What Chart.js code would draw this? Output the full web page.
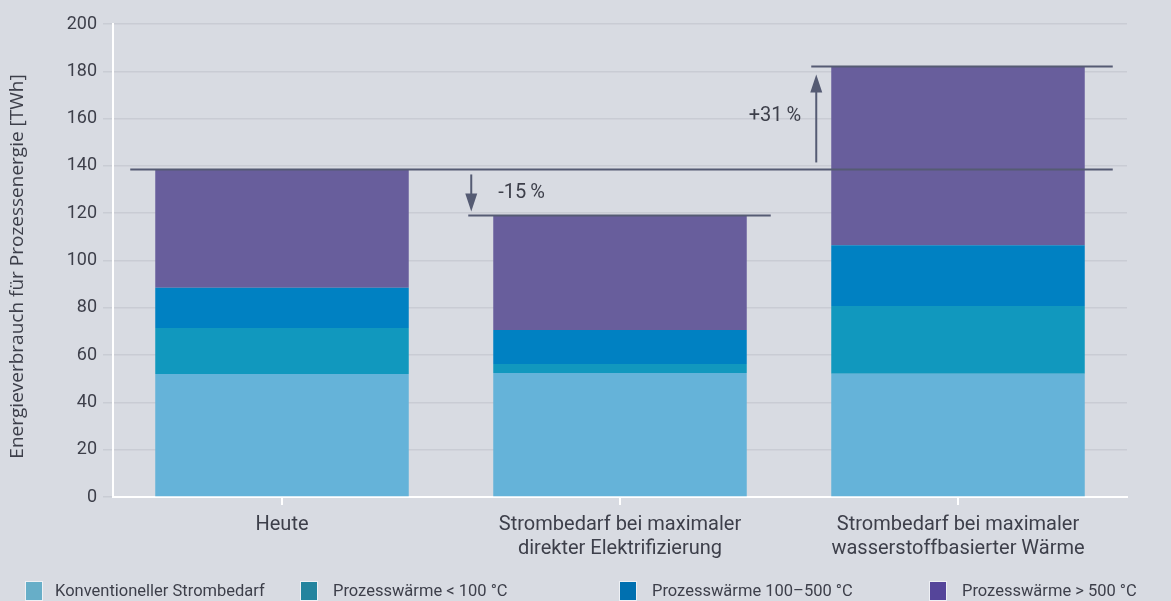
<!DOCTYPE html>
<html lang="de">
<head>
<meta charset="utf-8">
<script src="https://cdn.jsdelivr.net/npm/chart.js@4/dist/chart.umd.min.js"></script>
<style>
  html, body { margin: 0; padding: 0; background: #d8dbe2; }
  #wrap { position: relative; width: 1171px; height: 601px; overflow: hidden; }
  #legend { position: absolute; left: 0; top: 581px; width: 1171px; height: 22px;
            font-family: Roboto, sans-serif; font-size: 16.5px; color: #3d3f4a; }
  .item { position: absolute; top: 0; height: 22px; line-height: 20px; white-space: nowrap; }
  .box { position: absolute; left: 0; top: 0; width: 16px; height: 18px; border: 1px solid #eef0f4; }
  .item span { position: absolute; top: 0; }
</style>
</head>
<body>
<div id="wrap">
  <canvas id="chart" width="1171" height="601"></canvas>
  <div id="legend"></div>
</div>
<script>
// Kategorien und Werte (TWh)
const categories = [
    "Heute",
    ["Strombedarf bei maximaler", "direkter Elektrifizierung"],
    ["Strombedarf bei maximaler", "wasserstoffbasierter Wärme"]
];
const seriesNames = [
    "Konventioneller Strombedarf",
    "Prozesswärme < 100 °C",
    "Prozesswärme 100–500 °C",
    "Prozesswärme > 500 °C"
];
const konventionell = [52, 52.4, 52.1];
const waerme100 = [19.5, 3.8, 28.7];
const waerme100bis500 = [17, 14.4, 25.6];
const waerme500 = [50, 48.4, 75.6];
const yTicks = [0, 20, 40, 60, 80, 100, 120, 140, 160, 180, 200];
const yTitle = 'Energieverbrauch für Prozessenergie [TWh]';
const changeLabels = ["-15\u2009%", "+31\u2009%"];

const barColors = ['#65b3d9', '#1198be', '#0081c2', '#685e9c'];
const legendColors = ['#67aec8', '#23849e', '#0070b0', '#55459a'];
const legendX = [25, 300, 619, 929];

const textColor = '#3d3f4a';
const markColor = '#555b73';

const totals = konventionell.map((v, i) => v + waerme100[i] + waerme100bis500[i] + waerme500[i]);

// Legende als HTML
const legendEl = document.getElementById('legend');
seriesNames.forEach((name, i) => {
    const item = document.createElement('div');
    item.className = 'item';
    item.style.left = legendX[i] + 'px';
    item.innerHTML = '<div class="box" style="background:' + legendColors[i] + '"></div><span style="left:' + (i === 0 ? 30 : 33) + 'px">' + name + '</span>';
    legendEl.appendChild(item);
});

// Referenzlinien, Pfeile, Prozentangaben und Achsentitel
const annotations = {
    id: 'annotations',
    afterDatasetsDraw(chart) {
        const ctx = chart.ctx;
        const y = chart.scales.y;
        const meta = chart.getDatasetMeta(3);
        const bars = meta.data.map(b => ({ left: b.x - b.width / 2, right: b.x + b.width / 2 }));
        const y0 = y.getPixelForValue(totals[0]);
        const y1 = y.getPixelForValue(totals[1]);
        const y2 = y.getPixelForValue(totals[2]);

        ctx.save();
        ctx.strokeStyle = markColor;
        ctx.fillStyle = markColor;
        ctx.lineWidth = 2;

        function hline(x1, x2, yy) {
            ctx.beginPath();
            ctx.moveTo(x1, yy);
            ctx.lineTo(x2, yy);
            ctx.stroke();
        }
        function arrow(x, from, to) {
            const dir = to > from ? 1 : -1;
            ctx.lineWidth = 2;
            ctx.beginPath();
            ctx.moveTo(x, from);
            ctx.lineTo(x, to - dir * 12);
            ctx.stroke();
            ctx.beginPath();
            ctx.moveTo(x - 6, to - dir * 18);
            ctx.lineTo(x + 6, to - dir * 18);
            ctx.lineTo(x, to);
            ctx.closePath();
            ctx.fill();
        }

        hline(bars[0].left - 25, bars[2].right + 28, y0);
        hline(bars[1].left - 25, bars[1].right + 24, y1);
        hline(bars[2].left - 20, bars[2].right + 28, y2);

        arrow(bars[1].left - 22, y0 + 5, y1 - 4);
        arrow(bars[2].left - 15, y0 - 7, y2 + 8);

        ctx.fillStyle = textColor;
        ctx.font = '20px Roboto, sans-serif';
        ctx.textBaseline = 'middle';
        ctx.textAlign = 'left';
        ctx.fillText(changeLabels[0], bars[1].left + 5, (y0 + y1) / 2);
        ctx.textAlign = 'right';
        ctx.fillText(changeLabels[1], bars[2].left - 30, (y0 + y2) / 2 - 2);

        // Achsentitel: Schriftgröße so wählen, dass er ca. 397px lang ist
        ctx.font = '17px "Open Sans", sans-serif';
        const w = ctx.measureText(yTitle).width;
        const size = Math.min(19, Math.max(15, 17 * 397 / w));
        ctx.font = size.toFixed(1) + 'px "Open Sans", sans-serif';
        ctx.translate(18, (chart.chartArea.top + chart.chartArea.bottom) / 2 + 6);
        ctx.rotate(-Math.PI / 2);
        ctx.textAlign = 'center';
        ctx.fillText(yTitle, 0, 0);
        ctx.restore();
    }
};

const datasets = [konventionell, waerme100, waerme100bis500, waerme500].map((data, i) => ({
    label: seriesNames[i],
    data: data,
    backgroundColor: barColors[i],
    borderWidth: 0,
    categoryPercentage: 1,
    barPercentage: 0.75
}));

Chart.defaults.font.family = 'Roboto, sans-serif';
Chart.defaults.font.size = 16;
Chart.defaults.color = textColor;

new Chart(document.getElementById('chart'), {
    type: 'bar',
    data: { labels: categories, datasets: datasets },
    options: {
        responsive: false,
        animation: false,
        layout: { padding: { top: 24, right: 44, left: 0, bottom: 0 } },
        plugins: {
            legend: { display: false },
            tooltip: { enabled: false }
        },
        scales: {
            x: {
                stacked: true,
                grid: { display: true, offset: false, drawOnChartArea: false, drawTicks: true, tickLength: 8, color: '#ffffff', lineWidth: 2 },
                border: { color: '#ffffff', width: 2 },
                ticks: { padding: 8, font: { size: 20, lineHeight: 1.2 }, color: textColor },
                afterFit(scale) { scale.height = 104; }
            },
            y: {
                stacked: true,
                min: 0,
                max: 200,
                afterBuildTicks(scale) { scale.ticks = yTicks.map(v => ({ value: v })); },
                grid: { color: '#c9ccd4', lineWidth: 1.5, tickLength: 10 },
                border: { color: '#ffffff', width: 2 },
                ticks: { padding: 6, color: textColor, font: { size: 18 } },
                title: { display: false },
                afterFit(scale) { scale.width = 113; }
            }
        }
    },
    plugins: [annotations]
});
</script>
</body>
</html>
